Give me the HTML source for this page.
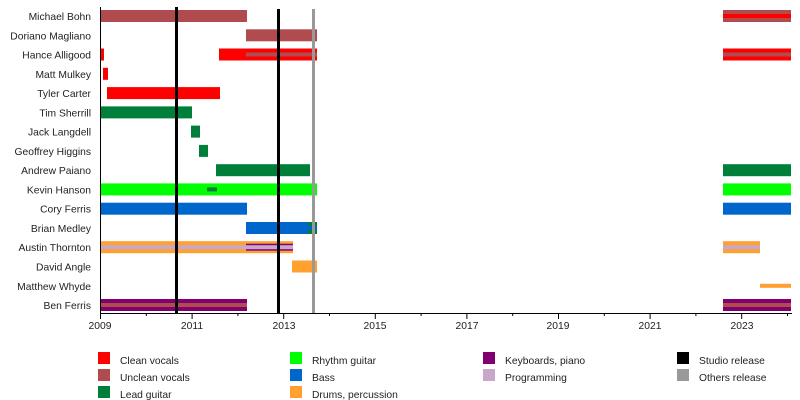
<!DOCTYPE html>
<html><head><meta charset="utf-8"><style>
html,body{margin:0;padding:0;background:#fff;}
svg{display:block;font-family:"Liberation Sans",sans-serif;}
</style></head><body>
<svg width="800" height="400" viewBox="0 0 800 400" xmlns="http://www.w3.org/2000/svg">
<g font-size="10.3" fill="#222" text-anchor="end">
<text x="91" y="20">Michael Bohn</text>
<text x="91" y="39.3">Doriano Magliano</text>
<text x="91" y="58.5">Hance Alligood</text>
<text x="91" y="77.8">Matt Mulkey</text>
<text x="91" y="97.1">Tyler Carter</text>
<text x="91" y="116.4">Tim Sherrill</text>
<text x="91" y="135.6">Jack Langdell</text>
<text x="91" y="154.9">Geoffrey Higgins</text>
<text x="91" y="174.2">Andrew Paiano</text>
<text x="91" y="193.4">Kevin Hanson</text>
<text x="91" y="212.7">Cory Ferris</text>
<text x="91" y="232">Brian Medley</text>
<text x="91" y="251.2">Austin Thornton</text>
<text x="91" y="270.5">David Angle</text>
<text x="91" y="289.8">Matthew Whyde</text>
<text x="91" y="309">Ben Ferris</text>
</g>
<rect x="100" y="10" width="147" height="12" fill="#B04B4F"/>
<rect x="723" y="10" width="68" height="12" fill="#B04B4F"/>
<rect x="723" y="14" width="68" height="4" fill="#FF0000"/>
<rect x="246" y="29.3" width="71" height="12" fill="#B04B4F"/>
<rect x="100" y="48.5" width="4" height="12" fill="#FF0000"/>
<rect x="219" y="48.5" width="98" height="12" fill="#FF0000"/>
<rect x="246" y="52.5" width="71" height="4" fill="#B04B4F"/>
<rect x="723" y="48.5" width="68" height="12" fill="#FF0000"/>
<rect x="723" y="52.5" width="68" height="4" fill="#B04B4F"/>
<rect x="103" y="67.8" width="5" height="12" fill="#FF0000"/>
<rect x="107" y="87.1" width="113" height="12" fill="#FF0000"/>
<rect x="100" y="106.4" width="92" height="12" fill="#007F3A"/>
<rect x="191" y="125.6" width="9" height="12" fill="#007F3A"/>
<rect x="199" y="144.9" width="9" height="12" fill="#007F3A"/>
<rect x="216" y="164.2" width="94" height="12" fill="#007F3A"/>
<rect x="723" y="164.2" width="68" height="12" fill="#007F3A"/>
<rect x="100" y="183.4" width="217" height="12" fill="#00FF00"/>
<rect x="207" y="187.4" width="10" height="4" fill="#007F3A"/>
<rect x="723" y="183.4" width="68" height="12" fill="#00FF00"/>
<rect x="100" y="202.7" width="147" height="12" fill="#0066CC"/>
<rect x="723" y="202.7" width="68" height="12" fill="#0066CC"/>
<rect x="246" y="222" width="71" height="12" fill="#0066CC"/>
<rect x="308" y="222" width="9" height="12" fill="#007F3A"/>
<rect x="308" y="226" width="9" height="4" fill="#0066CC"/>
<rect x="100" y="241.2" width="193" height="12" fill="#FFA030"/>
<rect x="246" y="243.7" width="47" height="7" fill="#800080"/>
<rect x="100" y="245.2" width="193" height="4" fill="#C8A8C8"/>
<rect x="723" y="241.2" width="37" height="12" fill="#FFA030"/>
<rect x="723" y="245.2" width="37" height="4" fill="#C8A8C8"/>
<rect x="292" y="260.5" width="25" height="12" fill="#FFA030"/>
<rect x="760" y="283.8" width="31" height="4" fill="#FFA030"/>
<rect x="100" y="299" width="147" height="12" fill="#800070"/>
<rect x="100" y="303" width="147" height="4" fill="#B04B4F"/>
<rect x="723" y="299" width="68" height="12" fill="#800070"/>
<rect x="723" y="303" width="68" height="4" fill="#B04B4F"/>
<rect x="175" y="7" width="3" height="306" fill="#000"/>
<rect x="277" y="9" width="3" height="304" fill="#000"/>
<rect x="312" y="9" width="3" height="304" fill="#999"/>
<rect x="100" y="7" width="1" height="307" fill="#000"/>
<rect x="100" y="313" width="692" height="1" fill="#000"/>
<g stroke="#000" stroke-width="1">
<path d="M100.5 313v6M146.3 313v3M192.1 313v6M237.9 313v3M283.7 313v6M329.5 313v3M375.3 313v6M421.1 313v3M466.9 313v6M512.7 313v3M558.5 313v6M604.3 313v3M650.1 313v6M695.9 313v3M741.7 313v6M787.5 313v3"/>
</g>
<g font-size="10.3" fill="#222" text-anchor="middle">
<text x="100" y="329">2009</text>
<text x="192" y="329">2011</text>
<text x="284" y="329">2013</text>
<text x="375" y="329">2015</text>
<text x="467" y="329">2017</text>
<text x="558" y="329">2019</text>
<text x="650" y="329">2021</text>
<text x="742" y="329">2023</text>
</g>
<rect x="98" y="352" width="12" height="12" fill="#FF0000"/>
<rect x="98" y="369" width="12" height="12" fill="#B04B4F"/>
<rect x="98" y="386" width="12" height="12" fill="#007F3A"/>
<rect x="290" y="352" width="12" height="12" fill="#00FF00"/>
<rect x="290" y="369" width="12" height="12" fill="#0066CC"/>
<rect x="290" y="386" width="12" height="12" fill="#FFA030"/>
<rect x="483" y="352" width="12" height="12" fill="#800070"/>
<rect x="483" y="369" width="12" height="12" fill="#C8A8C8"/>
<rect x="677" y="352" width="12" height="12" fill="#000"/>
<rect x="677" y="369" width="12" height="12" fill="#999"/>
<g font-size="10.3" fill="#222">
<text x="120" y="364">Clean vocals</text>
<text x="120" y="381">Unclean vocals</text>
<text x="120" y="398">Lead guitar</text>
<text x="312" y="364">Rhythm guitar</text>
<text x="312" y="381">Bass</text>
<text x="312" y="398">Drums, percussion</text>
<text x="505" y="364">Keyboards, piano</text>
<text x="505" y="381">Programming</text>
<text x="699" y="364">Studio release</text>
<text x="699" y="381">Others release</text>
</g>
</svg>
</body></html>
